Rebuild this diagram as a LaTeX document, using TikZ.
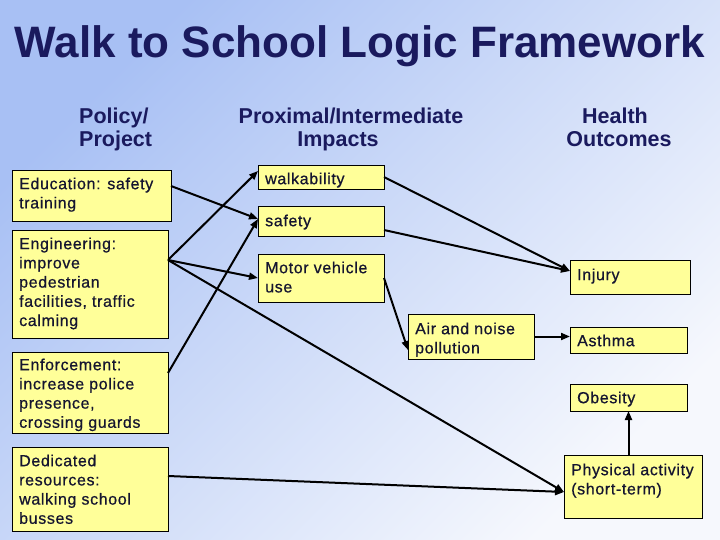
\documentclass[tikz,border=0pt]{standalone}
\usepackage{fontspec}
\setmainfont{Liberation Sans}
\newfontfamily\boxfont[LetterSpace=4,FakeBold=0.6]{Liberation Sans}
\usetikzlibrary{arrows.meta,calc}
\definecolor{navy}{HTML}{1A1A5E}
\definecolor{boxtext}{HTML}{151530}
\definecolor{boxfill}{HTML}{FFFF99}
\definecolor{bgblue}{HTML}{A8C0F4}
\definecolor{bgwhite}{HTML}{F6F8FD}
\newcommand\mybx[7]{%
  \node[box, minimum width={(#4-#2)*1pt}, minimum height={(#5-#3)*1pt}] (#1) at (#2,#3) {};
  \node[btxt] (#1t) at ({#2+7},{#6-13.44}) {\strut #7};}
\begin{document}
\begin{tikzpicture}[x=1pt,y=-1pt,
  box/.style={draw=black, line width=0.9pt, fill=boxfill, anchor=north west, inner sep=0pt, outer sep=0pt},
  btxt/.style={anchor=north west, inner sep=0pt, align=left, text=boxtext, font=\boxfont\fontsize{16}{19.2}\selectfont},
  hdr/.style={anchor=base, inner sep=0pt, text=navy, font=\fontsize{21.5}{24}\selectfont\bfseries},
  conn/.style={line width=2pt, draw=black, -{Triangle[length=9pt,width=7pt]}}]
\useasboundingbox (0,0) rectangle (720,540);
\shade[top color=bgblue, bottom color=bgwhite, shading angle=45] (0,0) rectangle (720,540);
% title
\node[anchor=base, inner sep=0pt, text=navy, font=\fontsize{44}{50}\selectfont\bfseries] (title) at (360,58) {Walk to School Logic Framework};
% headers
\node[hdr, anchor=base west] (h1a) at (79,124) {Policy/};
\node[hdr, anchor=base west] (h1b) at (79,147) {Project};
\node[hdr] (h2a) at (351,124) {Proximal/Intermediate};
\node[hdr] (h2b) at (338,147) {Impacts};
\node[hdr] (h3a) at (615,124) {Health};
\node[hdr] (h3b) at (619,147) {Outcomes};
% boxes
\mybx{edu}{12}{170}{171}{221}{189}{Education: safety\\training}
\mybx{eng}{12}{230}{168}{338}{249}{Engineering:\\improve\\pedestrian\\facilities, traffic\\calming}
\mybx{enf}{12}{352}{168}{433}{370}{Enforcement:\\increase police\\presence,\\crossing guards}
\mybx{ded}{12}{447}{168}{531}{466}{Dedicated\\resources:\\walking school\\busses}
\mybx{walk}{258}{165}{384}{189}{184}{walkability}
\mybx{safe}{258}{206}{384}{236}{226}{safety}
\mybx{mv}{258}{254}{384}{302}{273}{Motor vehicle\\use}
\mybx{air}{408}{314}{534}{359}{334}{Air and noise\\pollution}
\mybx{inj}{570}{260}{690}{294}{280}{Injury}
\mybx{ast}{570}{327}{687}{353}{346}{Asthma}
\mybx{obe}{570}{384}{687}{411}{403}{Obesity}
\mybx{pa}{564}{455}{702}{518}{475}{Physical activity\\(short-term)}
% connectors
\draw[conn] ([yshift=9.5pt]edu.east) -- ([yshift=2pt]safe.west);
\draw[conn] ([yshift=24pt]eng.east) -- ([yshift=6pt]walk.west);
\draw[conn] ([yshift=24pt]eng.east) -- (mv.west);
\draw[conn] ([yshift=24pt]eng.east) -- ([yshift=-5.5pt]pa.west);
\draw[conn] ([yshift=19.5pt]enf.east) -- ([yshift=2pt]safe.west);
\draw[conn] ([yshift=13pt]ded.east) -- ([yshift=-5.5pt]pa.west);
\draw[conn] (walk.east) -- ([yshift=6pt]inj.west);
\draw[conn] ([yshift=-9pt]safe.east) -- ([yshift=6pt]inj.west);
\draw[conn] (mv.east) -- ([yshift=-13.5pt]air.west);
\draw[conn] (air.east) -- (air.east -| ast.west);
\draw[conn] (obe.south |- pa.north) -- (obe.south);
\end{tikzpicture}
\end{document}
